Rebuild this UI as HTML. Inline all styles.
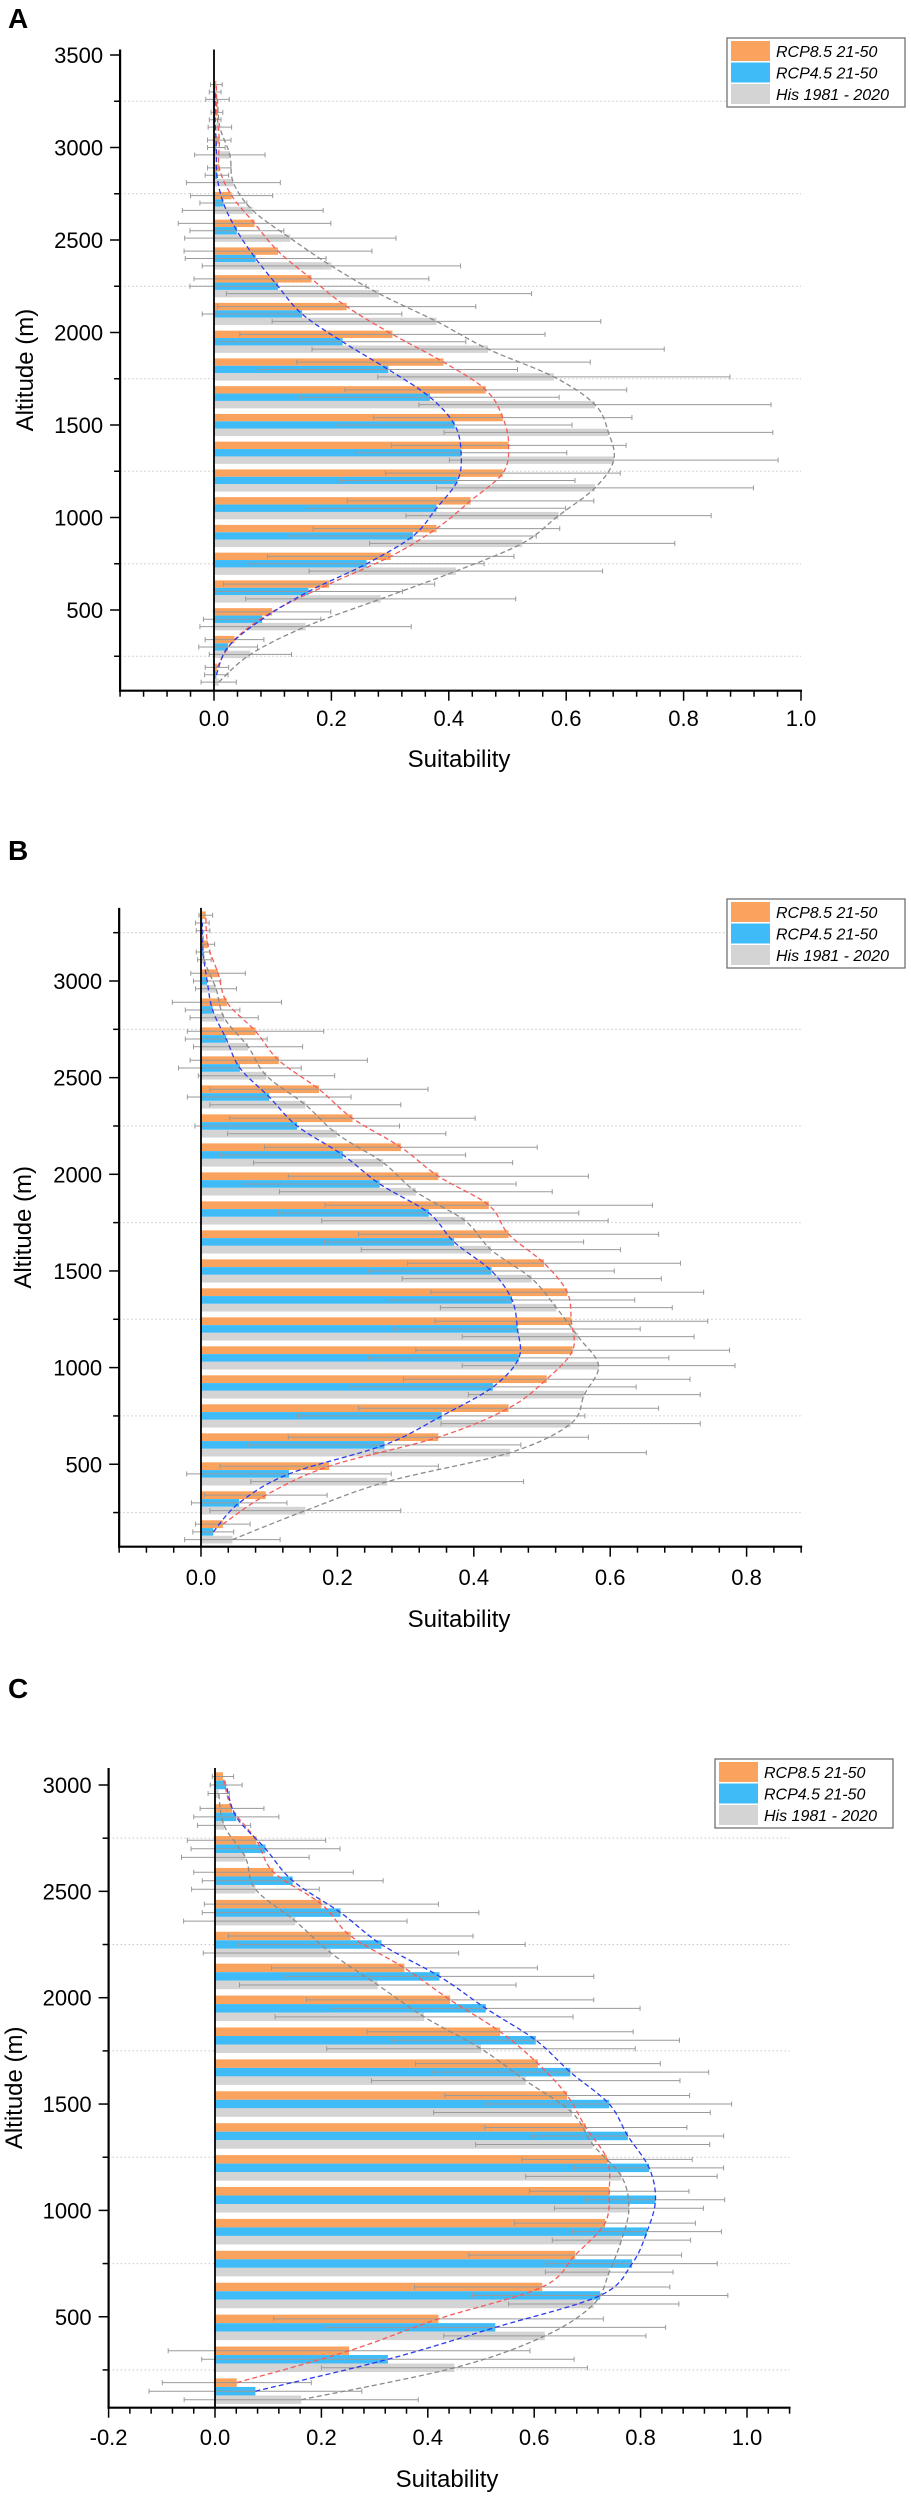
<!DOCTYPE html>
<html><head><meta charset="utf-8">
<style>
html,body{margin:0;padding:0;background:#fff;}
svg{display:block;font-family:"Liberation Sans",Arial,sans-serif;}
</style></head>
<body>
<svg id="fig" width="911" height="2500" viewBox="0 0 911 2500" xmlns="http://www.w3.org/2000/svg"></svg>
<script>
// ---------- DATA ----------
const altitudesA = [150,300,450,600,750,900,1050,1200,1350,1500,1650,1800,1950,2100,2250,2400,2550,2700,2850,3000,3150,3300];
const rcp85A = [0.005,0.035,0.099,0.196,0.301,0.379,0.437,0.492,0.502,0.492,0.463,0.391,0.304,0.226,0.166,0.109,0.069,0.030,0.009,0.009,0.005,0.004];
const rcp45A = [0.004,0.024,0.082,0.161,0.260,0.339,0.379,0.415,0.421,0.410,0.368,0.297,0.219,0.150,0.109,0.071,0.039,0.016,0.005,0.004,0.002,0.002];
const hisA   = [0.008,0.062,0.156,0.284,0.412,0.525,0.587,0.649,0.681,0.672,0.649,0.579,0.467,0.379,0.281,0.200,0.130,0.066,0.033,0.027,0.010,0.006];
const errRcp85A = [0.02,0.05,0.10,0.18,0.21,0.21,0.21,0.20,0.20,0.22,0.24,0.25,0.26,0.22,0.20,0.16,0.13,0.07,0.02,0.02,0.01,0.01];
const errRcp45A = [0.02,0.05,0.10,0.16,0.20,0.21,0.22,0.20,0.18,0.20,0.22,0.22,0.21,0.17,0.15,0.12,0.08,0.04,0.02,0.015,0.01,0.01];
const errHisA   = [0.03,0.07,0.18,0.23,0.25,0.26,0.26,0.27,0.28,0.28,0.30,0.30,0.30,0.28,0.26,0.22,0.18,0.12,0.08,0.06,0.02,0.02];

const altitudesB = [150,300,450,600,750,900,1050,1200,1350,1500,1650,1800,1950,2100,2250,2400,2550,2700,2850,3000,3150,3300];
const rcp85B = [0.032,0.095,0.188,0.348,0.451,0.507,0.545,0.543,0.537,0.503,0.451,0.422,0.348,0.293,0.222,0.173,0.114,0.080,0.038,0.025,0.010,0.007];
const rcp45B = [0.018,0.056,0.129,0.269,0.353,0.428,0.466,0.464,0.456,0.426,0.371,0.334,0.262,0.208,0.141,0.100,0.057,0.037,0.017,0.009,0.003,0.002];
const hisB   = [0.046,0.153,0.273,0.453,0.542,0.562,0.583,0.553,0.521,0.485,0.425,0.387,0.315,0.267,0.199,0.153,0.096,0.069,0.034,0.022,0.005,0.003];
const errRcp85B = [0.04,0.09,0.16,0.22,0.22,0.21,0.23,0.20,0.20,0.20,0.22,0.24,0.22,0.20,0.18,0.16,0.13,0.10,0.08,0.04,0.01,0.01];
const errRcp45B = [0.03,0.07,0.15,0.20,0.21,0.21,0.22,0.18,0.18,0.18,0.19,0.22,0.20,0.18,0.15,0.12,0.09,0.06,0.04,0.02,0.01,0.01];
const errHisB   = [0.07,0.14,0.20,0.20,0.19,0.17,0.20,0.17,0.17,0.19,0.19,0.21,0.20,0.19,0.16,0.14,0.10,0.08,0.05,0.03,0.01,0.01];

const altitudesC = [150,300,450,600,750,900,1050,1200,1350,1500,1650,1800,1950,2100,2250,2400,2550,2700,2850,3000];
const rcp85C = [0.041,0.252,0.420,0.615,0.677,0.733,0.741,0.737,0.697,0.662,0.607,0.536,0.442,0.356,0.255,0.200,0.110,0.078,0.032,0.015];
const rcp45C = [0.076,0.325,0.527,0.724,0.784,0.812,0.828,0.816,0.776,0.741,0.668,0.603,0.509,0.422,0.313,0.236,0.146,0.095,0.040,0.021];
const hisC   = [0.162,0.450,0.620,0.712,0.741,0.764,0.778,0.764,0.710,0.671,0.584,0.500,0.393,0.306,0.218,0.151,0.076,0.057,0.017,0.007];
const errRcp85C = [0.14,0.34,0.31,0.24,0.20,0.17,0.15,0.16,0.19,0.23,0.23,0.25,0.27,0.25,0.23,0.22,0.15,0.13,0.06,0.02];
const errRcp45C = [0.20,0.35,0.32,0.24,0.16,0.14,0.13,0.14,0.18,0.23,0.26,0.27,0.29,0.29,0.27,0.26,0.17,0.14,0.08,0.03];
const errHisC   = [0.22,0.25,0.19,0.16,0.12,0.13,0.14,0.18,0.22,0.26,0.29,0.29,0.28,0.26,0.24,0.21,0.12,0.12,0.05,0.02];

const xTickLabelsA = ["0.0","0.2","0.4","0.6","0.8","1.0"];
const xTickLabelsB = ["0.0","0.2","0.4","0.6","0.8"];
const xTickLabelsC = ["-0.2","0.0","0.2","0.4","0.6","0.8","1.0"];
const yTickLabelsA = ["500","1000","1500","2000","2500","3000","3500"];
const yTickLabelsB = ["500","1000","1500","2000","2500","3000"];
const yTickLabelsC = ["500","1000","1500","2000","2500","3000"];
const seriesNames = ["RCP8.5 21-50","RCP4.5 21-50","His 1981 - 2020"];

// ---------- DRAW ----------
const NS = "http://www.w3.org/2000/svg";
const svg = document.getElementById("fig");
const COLORS = ["#F9A35E","#3FBCF8","#D4D4D4"];
const CURVE = ["#F55A5A","#2A3BEE","#8A8A8A"];
function mk(tag, attrs, parent){
  const e = document.createElementNS(NS, tag);
  for (const k in attrs) e.setAttribute(k, attrs[k]);
  (parent||svg).appendChild(e);
  return e;
}

function panel(cfg){
  const g = mk("g", {});
  
  
  const X = v => cfg.x0 + v * cfg.xs;
  const Y = a => cfg.yRefPx + (cfg.yRefAlt - a) * cfg.ys;
  const top = Y(cfg.altTop), bottom = cfg.bottom;
  const left = X(cfg.xmin), right = X(cfg.xmax);

  const lt = mk("text", {x: 8, y: cfg.letterY, "font-size": 28, "font-weight": "bold"}, g);
  lt.textContent = cfg.id;
  
  

  for (let a = 250; a < cfg.altTop; a += 500){
    const gl = mk("line", {x1: left, x2: right, y1: Y(a), y2: Y(a), stroke: "#c8c8c8", "stroke-width": 1, "stroke-dasharray": "1.5 2.5"}, g);
    
    
  }

  const series = [cfg.s85, cfg.s45, cfg.his];
  const errs = [cfg.e85, cfg.e45, cfg.eh];
  const bh = 40 * cfg.ys;
  const offs = [40, 0, -40];
  const barNames = ['bar-rcp85', 'bar-rcp45', 'bar-his'];
  for (let s = 0; s < 3; s++){
    cfg.alts.forEach((a, i) => {
      const v = series[s][i];
      const cy = Y(a + offs[s]);
      const r = mk("rect", {x: X(Math.min(0, v)), y: cy - bh/2, width: Math.abs(X(v) - X(0)), height: bh, fill: COLORS[s]}, g);
      
      
    });
  }
  for (let s = 0; s < 3; s++){
    cfg.alts.forEach((a, i) => {
      const v = series[s][i], e = errs[s][i];
      const cy = Y(a + offs[s]);
      const x1 = X(v - e), x2 = X(v + e);
      const eg = mk("g", {stroke: "#9a9a9a", "stroke-width": 1}, g);
      
      
      mk("line", {x1: x1, x2: x2, y1: cy, y2: cy}, eg);
      mk("line", {x1: x1, x2: x1, y1: cy - 2.5, y2: cy + 2.5}, eg);
      mk("line", {x1: x2, x2: x2, y1: cy - 2.5, y2: cy + 2.5}, eg);
    });
  }
  const curveNames = ['fit-curve-rcp85', 'fit-curve-rcp45', 'fit-curve-his'];
  for (let s = 0; s < 3; s++){
    const pts = cfg.alts.map((a, i) => [X(series[s][i]), Y(a + offs[s])]);
    let d = "M" + pts[0][0] + "," + pts[0][1];
    for (let i = 0; i < pts.length - 1; i++){
      const p0 = pts[Math.max(0, i-1)], p1 = pts[i], p2 = pts[i+1], p3 = pts[Math.min(pts.length-1, i+2)];
      const c1 = [p1[0] + (p2[0]-p0[0])/6, p1[1] + (p2[1]-p0[1])/6];
      const c2 = [p2[0] - (p3[0]-p1[0])/6, p2[1] - (p3[1]-p1[1])/6];
      d += " C" + c1[0] + "," + c1[1] + " " + c2[0] + "," + c2[1] + " " + p2[0] + "," + p2[1];
    }
    const c = mk("path", {d: d, fill: "none", stroke: CURVE[s], "stroke-width": 1.3, "stroke-dasharray": "5 3"}, g);
    
    
  }

  const z = mk("line", {x1: X(0), x2: X(0), y1: top, y2: bottom, stroke: "#000", "stroke-width": 1.8}, g);
  
  

  const ya = mk("line", {x1: left, x2: left, y1: top, y2: bottom + 1, stroke: "#000", "stroke-width": 2.2}, g);
  
  
  const xa = mk("line", {x1: left - 1, x2: right + 1, y1: bottom, y2: bottom, stroke: "#000", "stroke-width": 2.2}, g);
  
  

  const nx = Math.round((cfg.xmax - cfg.xmin) / 0.04);
  for (let k = 0; k <= nx; k++){
    const v = cfg.xmin + k * 0.04;
    const major = Math.abs(Math.round(v / 0.2) * 0.2 - v) < 1e-6;
    mk("line", {x1: X(v), x2: X(v), y1: bottom, y2: bottom + (major ? 10 : 6), stroke: "#000", "stroke-width": 1.5}, g);
  }
  cfg.xLabels.forEach(lbl => {
    const t = mk("text", {x: X(parseFloat(lbl)), y: cfg.xLabelY, "font-size": 22, "text-anchor": "middle"}, g);
    t.textContent = lbl;
    
    
  });
  for (let a = 250; a <= cfg.altTop; a += 250){
    const major = a % 500 === 0;
    mk("line", {x1: left, x2: left - (major ? 10 : 6), y1: Y(a), y2: Y(a), stroke: "#000", "stroke-width": 1.5}, g);
  }
  cfg.yLabels.forEach(lbl => {
    const t = mk("text", {x: left - 17, y: Y(parseFloat(lbl)) + 8, "font-size": 22, "text-anchor": "end"}, g);
    t.textContent = lbl;
    
    
  });
  const xt = mk("text", {x: cfg.xTitleX, y: cfg.xTitleY, "font-size": 24, "text-anchor": "middle"}, g);
  xt.textContent = "Suitability";
  
  
  const cyMid = (top + bottom) / 2;
  const yt = mk("text", {x: cfg.yTitleX, y: cyMid, "font-size": 24, "text-anchor": "middle", transform: "rotate(-90 " + cfg.yTitleX + " " + cyMid + ")"}, g);
  yt.textContent = "Altitude (m)";
  
  

  const lg = mk("g", {}, g);
  
  
  mk("rect", {x: cfg.legX, y: cfg.legY, width: 178, height: 69, fill: "#fff", stroke: "#666", "stroke-width": 1.2}, lg);
  for (let s = 0; s < 3; s++){
    const eg = mk("g", {}, lg);
    
    
    mk("rect", {x: cfg.legX + 4, y: cfg.legY + 3 + s * 21.5, width: 39, height: 20, fill: COLORS[s]}, eg);
    const t = mk("text", {x: cfg.legX + 49, y: cfg.legY + 19 + s * 21.5, "font-size": 16, "font-style": "italic"}, eg);
    t.textContent = seriesNames[s];
  }
}

panel({id: "A", alts: altitudesA, s85: rcp85A, s45: rcp45A, his: hisA, e85: errRcp85A, e45: errRcp45A, eh: errHisA,
  x0: 214, xs: 587, xmin: -0.16, xmax: 1.0, yRefAlt: 3500, yRefPx: 55, ys: 0.185, altTop: 3530, bottom: 690.7,
  xLabels: xTickLabelsA, yLabels: yTickLabelsA, xLabelY: 726, xTitleX: 459, xTitleY: 767, yTitleX: 33, letterY: 28, legX: 727, legY: 38});
panel({id: "B", alts: altitudesB, s85: rcp85B, s45: rcp45B, his: hisB, e85: errRcp85B, e45: errRcp45B, eh: errHisB,
  x0: 201, xs: 682, xmin: -0.12, xmax: 0.88, yRefAlt: 3000, yRefPx: 981, ys: 0.1933, altTop: 3378, bottom: 1546.7,
  xLabels: xTickLabelsB, yLabels: yTickLabelsB, xLabelY: 1585, xTitleX: 459, xTitleY: 1627, yTitleX: 31, letterY: 860, legX: 727, legY: 899});
panel({id: "C", alts: altitudesC, s85: rcp85C, s45: rcp45C, his: hisC, e85: errRcp85C, e45: errRcp45C, eh: errHisC,
  x0: 215, xs: 532, xmin: -0.2, xmax: 1.08, yRefAlt: 3000, yRefPx: 1785, ys: 0.2127, altTop: 3080, bottom: 2407.7,
  xLabels: xTickLabelsC, yLabels: yTickLabelsC, xLabelY: 2445, xTitleX: 447, xTitleY: 2487, yTitleX: 22, letterY: 1698, legX: 715, legY: 1759});
</script>
</body></html>
